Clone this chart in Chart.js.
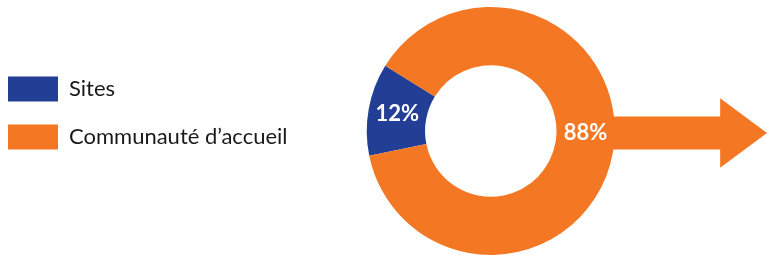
<!DOCTYPE html>
<html>
<head>
<meta charset="utf-8">
<script src="https://cdn.jsdelivr.net/npm/chart.js@4.4.1/dist/chart.umd.min.js"></script>
<style>
  html, body { margin: 0; padding: 0; background: #fff; }
  #wrap { width: 767px; height: 257px; position: relative; }
</style>
</head>
<body>
<div id="wrap"><canvas id="chart"></canvas></div>
<script>
const labels = ["Sites", "Communauté d’accueil"];
const values = [12, 88];
const colors = ["#233f95", "#f47724"];

// orange arrow pointing right, drawn behind the ring
const arrowPlugin = {
  id: "arrow",
  beforeDatasetsDraw(chart) {
    const arc = chart.getDatasetMeta(0).data[0];
    if (!arc) return;
    const { x, y, outerRadius } = arc;
    const r = outerRadius;
    const cy = y + 2;
    const start = x + r * 0.75;
    const shaftEnd = x + r * 1.85;
    const tip = chart.width;
    const ctx = chart.ctx;
    ctx.save();
    ctx.fillStyle = colors[1];
    ctx.beginPath();
    ctx.moveTo(start, cy - r * 0.133);
    ctx.lineTo(shaftEnd, cy - r * 0.133);
    ctx.lineTo(shaftEnd, cy - r * 0.28);
    ctx.lineTo(tip, cy);
    ctx.lineTo(shaftEnd, cy + r * 0.28);
    ctx.lineTo(shaftEnd, cy + r * 0.133);
    ctx.lineTo(start, cy + r * 0.133);
    ctx.closePath();
    ctx.fill();
    ctx.restore();
  }
};

// white percentage labels on the ring
const pctPlugin = {
  id: "pct",
  afterDatasetsDraw(chart) {
    const ctx = chart.ctx;
    const meta = chart.getDatasetMeta(0);
    ctx.save();
    ctx.fillStyle = "#fff";
    ctx.font = "bold 22px Lato, 'Open Sans', sans-serif";
    ctx.textAlign = "center";
    ctx.textBaseline = "middle";
    meta.data.forEach((arc, i) => {
      const mid = (arc.innerRadius + arc.outerRadius) / 2;
      // the large slice label sits on the arrow axis
      const ang = i === 1 ? 0 : (arc.startAngle + arc.endAngle) / 2;
      const px = arc.x + Math.cos(ang) * mid;
      const py = arc.y + Math.sin(ang) * mid + (i === 1 ? 2 : 0);
      ctx.fillText(values[i] + "%", px, py);
    });
    ctx.restore();
  }
};

// nudge the legend block up and to the left
const legendShift = {
  id: "legendShift",
  afterLayout(chart) {
    const lg = chart.legend;
    lg.left -= 15;
    lg.right -= 15;
    lg.top -= 18;
    lg.bottom -= 18;
  }
};

new Chart(document.getElementById("chart"), {
  type: "doughnut",
  data: {
    labels: labels,
    datasets: [{
      data: values,
      backgroundColor: colors,
      borderWidth: 0
    }]
  },
  options: {
    responsive: true,
    maintainAspectRatio: false,
    animation: false,
    cutout: "53%",
    rotation: -101.5,
    layout: { padding: { top: 7, bottom: 2, right: 98 } },
    plugins: {
      legend: {
        position: "left",
        labels: {
          boxWidth: 50,
          boxHeight: 25,
          padding: 23,
          color: "#1a1a1a",
          font: { family: "Lato, 'Open Sans', sans-serif", size: 22 }
        }
      },
      tooltip: { enabled: false }
    }
  },
  plugins: [arrowPlugin, pctPlugin, legendShift]
});
</script>
</body>
</html>
